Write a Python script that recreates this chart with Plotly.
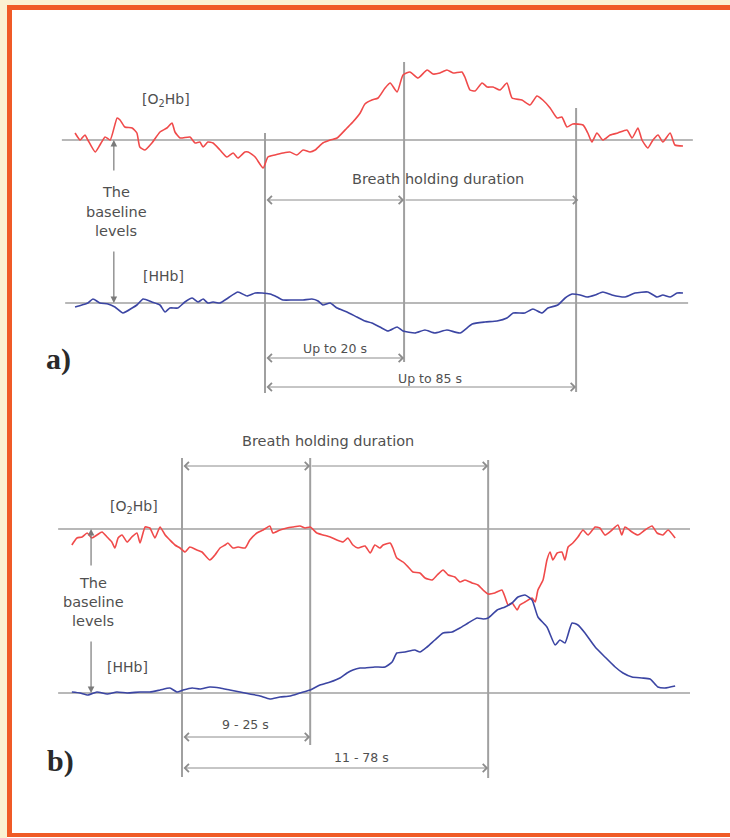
import plotly.graph_objects as go

# ---------------- Panel a) : time (s, relative to breath-hold onset), change vs baseline (a.u.)
a_o2hb_t = [-51.9,-50.5,-49.2,-48.4,-46.4,-45.1,-43.7,-42.3,-40.4,-39.6,-38.3,-36.3,-35.0,-34.2,-32.8,-30.9,
            -28.7,-26.8,-25.4,-24.6,-23.2,-20.5,-19.1,-17.8,-16.9,-15.6,-14.2,-12.3,-10.4,-8.7,-7.4,-5.5,-4.6,
            -2.7,-0.5,0.8,2.7,4.9,6.8,8.7,10.4,12.3,13.7,15.8,17.8,19.7,22.4,24.0,26.0,27.3,29.2,30.9,32.8,
            34.2,36.1,37.7,39.6,41.8,44.3,45.9,47.8,49.7,51.4,53.8,54.6,56.0,57.4,59.3,60.7,62.3,64.2,66.1,
            67.5,70.2,72.4,74.3,75.9,77.9,79.8,81.1,82.5,84.1,86.9,88.2,89.3,90.7,92.3,94.3,96.4,98.9,100.3,
            101.9,103.0,104.6,106.0,107.4,108.7,110.7,112.0,114.2]
a_o2hb_v = [0.7,0.0,0.5,0.0,-1.2,-0.5,0.3,0.0,2.2,2.0,1.3,1.2,0.7,-0.7,-1.0,-0.3,
            0.8,1.2,1.7,0.8,0.2,0.3,-0.3,-0.2,-0.7,-0.2,-0.3,-1.0,-1.7,-1.3,-1.8,-1.2,-1.2,
            -1.7,-2.8,-1.7,-1.5,-1.3,-1.2,-1.5,-1.0,-1.2,-1.0,-0.3,0.0,0.2,1.2,1.8,2.7,3.6,4.0,4.2,5.2,
            5.7,4.8,6.5,6.8,6.2,7.0,6.6,6.7,7.0,6.7,6.8,6.3,5.0,4.9,5.7,5.3,5.3,5.0,5.7,
            4.2,4.0,3.5,4.4,4.0,3.2,2.2,2.3,1.3,1.6,1.5,0.7,-0.2,0.7,0.0,0.5,0.7,1.0,0.2,
            1.2,0.0,-0.8,0.0,0.5,-0.2,0.7,-0.5,-0.6]

a_hhb_t = [-51.9,-50.0,-48.4,-47.0,-45.1,-42.9,-41.0,-38.8,-36.3,-35.0,-33.3,-30.9,-28.7,-27.3,-26.0,-23.8,
           -21.9,-19.9,-18.3,-16.9,-15.6,-14.2,-12.3,-10.1,-7.4,-4.9,-2.7,-0.8,1.4,3.3,4.9,7.7,10.4,12.8,
           14.5,15.8,17.8,19.7,22.4,25.1,27.3,29.2,31.4,33.6,36.1,37.7,41.0,43.7,46.4,49.7,53.3,56.6,60.1,
           63.4,66.1,67.8,71.0,73.2,75.7,77.3,80.0,82.0,83.9,86.1,88.0,90.2,92.3,94.8,98.4,101.1,104.6,
           107.1,108.7,110.7,112.6,114.2]
a_hhb_v = [-0.4,-0.2,0.0,0.4,0.0,-0.1,-0.4,-1.0,-0.5,-0.2,0.4,0.1,-0.2,-0.9,-0.5,-0.5,
           0.1,0.5,0.1,0.4,0.0,0.1,0.0,0.5,1.1,0.7,1.0,1.0,0.9,0.6,0.3,0.3,0.3,0.4,
           0.2,-0.2,0.0,-0.5,-0.9,-1.4,-1.8,-2.0,-2.4,-2.8,-2.4,-2.8,-3.0,-2.7,-3.0,-2.7,-3.0,-2.1,-1.9,
           -1.8,-1.5,-1.0,-1.0,-0.6,-1.0,-0.5,-0.2,0.5,0.9,0.8,0.6,0.8,1.1,0.8,0.6,1.0,1.1,
           0.6,0.8,0.6,1.0,1.0]

a_marks = [0.0, 38.0, 85.0]          # onset, "up to 20 s", "up to 85 s" cursors
a_labels = ["Up to 20 s", "Up to 85 s"]

# ---------------- Panel b)
b_o2hb_t = [-28.1,-26.8,-25.5,-24.2,-23.0,-21.7,-20.4,-19.1,-17.9,-17.1,-16.3,-15.3,-14.0,-12.8,-11.5,-10.7,
            -9.4,-8.2,-6.9,-5.6,-4.3,-3.1,-1.8,-0.5,0.8,2.0,3.8,5.1,7.1,8.4,9.7,11.0,11.7,13.0,14.3,16.1,
            17.3,19.1,20.7,22.4,23.2,25.0,26.8,28.3,30.1,31.4,32.7,34.4,36.0,37.8,39.5,41.1,42.3,43.6,44.9,
            46.7,48.0,49.2,50.5,51.3,53.1,53.8,54.8,56.4,57.7,58.9,60.7,62.0,63.8,65.1,66.6,67.9,69.6,70.9,
            72.2,74.0,75.5,76.8,78.1,79.8,81.6,82.4,83.2,84.2,85.5,86.2,87.5,89.3,90.1,90.8,92.1,93.1,93.9,
            94.6,95.7,96.9,97.7,98.5,99.7,101.0,102.3,103.6,105.4,106.6,107.9,109.7,111.2,112.2,113.0,114.8,
            116.3,118.1,119.9,121.2,122.7,124.0,125.8]
b_o2hb_v = [-1.6,-0.9,-0.8,-0.4,-0.9,-0.6,-0.3,-0.8,-1.3,-1.9,-0.9,-0.6,-1.3,-0.8,-0.4,-1.4,
            0.2,0.1,-0.9,0.2,-0.6,-1.1,-1.6,-1.9,-2.3,-1.8,-2.1,-2.3,-3.1,-2.6,-1.9,-1.6,-1.4,-1.9,-1.8,-1.9,
            -1.1,-0.4,-0.1,0.3,-0.4,-0.1,0.1,0.2,0.3,0.1,0.2,-0.4,-0.6,-0.8,-1.1,-1.3,-0.9,-1.6,-1.9,
            -1.7,-2.4,-1.6,-1.9,-1.6,-1.4,-1.9,-2.9,-3.3,-3.8,-4.3,-4.4,-4.9,-5.1,-4.6,-4.1,-4.6,-4.8,-5.3,
            -5.1,-5.4,-5.6,-6.1,-6.5,-6.4,-6.1,-6.8,-7.6,-7.4,-8.1,-7.6,-7.3,-6.9,-7.3,-6.1,-5.1,-3.1,-2.3,
            -3.1,-2.4,-2.3,-3.1,-1.8,-1.4,-0.8,-0.1,-0.6,0.2,0.1,-0.6,-0.1,0.4,-0.6,0.2,-0.3,
            -0.6,-0.1,0.3,-0.4,-0.6,-0.1,-0.9]

b_hhb_t = [-28.1,-26.0,-24.0,-21.7,-19.1,-16.6,-14.0,-10.7,-8.2,-5.6,-3.1,-1.3,0.3,2.6,4.6,7.1,9.7,12.2,
           14.8,17.3,19.9,22.4,25.0,27.6,30.1,32.7,35.2,37.8,40.3,42.1,43.6,45.4,46.7,49.2,51.8,53.6,54.8,
           56.9,59.4,60.7,62.5,64.5,66.6,68.9,70.9,73.0,75.3,76.8,78.1,80.4,82.4,84.2,85.7,87.5,89.3,90.8,
           93.1,95.2,96.4,97.7,99.5,101.0,102.8,105.4,107.9,110.5,112.5,114.8,117.3,119.4,121.4,123.2,125.8]
b_hhb_v = [0.1,0.0,-0.2,0.1,-0.1,0.1,0.0,0.1,0.1,0.3,0.5,0.1,0.3,0.5,0.4,0.6,0.5,0.3,
           0.1,-0.1,-0.3,-0.6,-0.4,-0.3,0.0,0.3,0.8,1.1,1.5,2.0,2.3,2.5,2.5,2.6,2.6,3.1,4.0,
           4.1,4.3,4.1,4.6,5.3,6.0,6.1,6.5,7.0,7.5,7.4,7.5,8.3,8.6,9.0,9.6,9.8,9.3,7.6,
           6.6,4.8,5.3,5.0,7.0,6.8,6.0,4.6,3.6,2.6,2.0,1.6,1.5,1.4,0.6,0.5,0.7]

b_marks = [0.0, 32.7, 78.1]
b_labels = ["9 - 25 s", "11 - 78 s"]

RED = "#f04a4a"
BLUE = "#3b45a3"
GRAY = "#a0a0a0"
AGRAY = "#8c8c8c"
TXT = "#505050"
ORANGE = "#f05a26"
SANS = "DejaVu Sans, Verdana, sans-serif"
SERIF = "Liberation Serif, Times New Roman, serif"

fig = go.Figure()
for xs, ys, xa, ya, col, nm in [
    (a_o2hb_t, a_o2hb_v, "x", "y", RED, "[O2Hb] a"),
    (a_hhb_t, a_hhb_v, "x", "y2", BLUE, "[HHb] a"),
    (b_o2hb_t, b_o2hb_v, "x2", "y3", RED, "[O2Hb] b"),
    (b_hhb_t, b_hhb_v, "x2", "y4", BLUE, "[HHb] b"),
]:
    fig.add_trace(go.Scatter(x=xs, y=ys, xaxis=xa, yaxis=ya, mode="lines", name=nm,
                             line=dict(color=col, width=1.6, shape="spline", smoothing=0.5)))

shapes = []
annos = []

def hline(xr, yr, x0, x1, y):
    shapes.append(dict(type="line", xref=xr, yref=yr, x0=x0, x1=x1, y0=y, y1=y,
                       line=dict(color=GRAY, width=1.6), layer="below"))

def vline(xr, yr, x, y0, y1):
    shapes.append(dict(type="line", xref=xr, yref=yr, x0=x, x1=x, y0=y0, y1=y1,
                       line=dict(color=GRAY, width=2), layer="below"))

def dim(xr, yr, x0, x1, y, both=True):
    annos.append(dict(xref=xr, yref=yr, axref=xr, ayref=yr, x=x1, y=y, ax=x0, ay=y, text="",
                      showarrow=True, arrowhead=4, startarrowhead=4,
                      arrowside="end+start" if both else "end",
                      arrowsize=1.6, startarrowsize=1.6, arrowwidth=1, arrowcolor=AGRAY,
                      standoff=0, startstandoff=0))

def label(xr, yr, x, y, text, size=12, font=SANS, color=TXT):
    annos.append(dict(xref=xr, yref=yr, x=x, y=y, text=text, showarrow=False,
                      font=dict(family=font, size=size, color=color),
                      xanchor="center", yanchor="middle"))

def pointer(xr, yr, x, y_tail, y_head):
    annos.append(dict(xref=xr, yref=yr, axref=xr, ayref=yr, x=x, y=y_head, ax=x, ay=y_tail,
                      text="", showarrow=True, arrowhead=2, arrowsize=1.1, arrowwidth=1.2,
                      arrowcolor="#7a7a7a", standoff=0))

BIG, MID, SMALL = 14.5, 14, 12.5

# ---- panel a
hline("x", "y", -55.5, 116.9, 0)
hline("x", "y2", -54.6, 115.6, 0)
vline("x", "y", a_marks[0], 0.7, -25.3)
vline("x", "y", a_marks[1], 7.8, -22.2)
vline("x", "y", a_marks[2], 3.2, -25.2)
dim("x", "y", a_marks[0], a_marks[1], -6.0)
dim("x", "y", a_marks[1], a_marks[2] + 0.6, -6.0, both=False)
dim("x", "y", a_marks[0], a_marks[1], -21.8)
dim("x", "y", a_marks[0], a_marks[2], -24.7)
label("x", "y", 47.3, -3.9, "Breath holding duration", size=BIG)
label("x", "y", 19.2, -20.8, a_labels[0], size=SMALL)
label("x", "y", 45.1, -23.8, a_labels[1], size=SMALL)
label("x", "y", -27.0, 4.0, "[O<sub>2</sub>Hb]", size=MID)
label("x", "y", -27.6, -13.6, "[HHb]", size=MID)
label("x", "y", -40.7, -5.2, "The", size=BIG)
label("x", "y", -40.7, -7.2, "baseline", size=BIG)
label("x", "y", -40.7, -9.1, "levels", size=BIG)
pointer("x", "y", -41.3, -3.2, 0)
pointer("x", "y2", -41.3, 5.3, 0)
label("x", "y", -56.4, -21.9, "<b>a)</b>", size=30, font=SERIF, color="#2a2a2a")

# ---- panel b
hline("x2", "y3", -31.6, 129.6, 0)
hline("x2", "y4", -31.6, 129.6, 0)
vline("x2", "y3", b_marks[0], 7.1, -24.8)
vline("x2", "y3", b_marks[1], 7.1, -21.6)
vline("x2", "y3", b_marks[2], 6.9, -24.9)
dim("x2", "y3", b_marks[0], b_marks[1], 6.3)
dim("x2", "y3", b_marks[1], b_marks[2], 6.3, both=False)
dim("x2", "y3", b_marks[0], b_marks[1], -20.8)
dim("x2", "y3", b_marks[0], b_marks[2], -23.9)
label("x2", "y3", 37.2, 8.8, "Breath holding duration", size=BIG)
label("x2", "y3", 16.1, -19.5, b_labels[0], size=SMALL)
label("x2", "y3", 45.9, -22.8, b_labels[1], size=SMALL)
label("x2", "y3", -12.2, 2.2, "[O<sub>2</sub>Hb]", size=MID)
label("x2", "y3", -13.8, -13.8, "[HHb]", size=MID)
label("x2", "y3", -22.7, -5.4, "The", size=BIG)
label("x2", "y3", -22.7, -7.3, "baseline", size=BIG)
label("x2", "y3", -22.7, -9.2, "levels", size=BIG)
pointer("x2", "y3", -23.2, -3.8, 0)
pointer("x2", "y4", -23.2, 5.3, 0)
label("x2", "y3", -31.1, -23.2, "<b>b)</b>", size=30, font=SERIF, color="#2a2a2a")

# ---- page frame (orange border on left/top/bottom + pale strip)
W, H = 730, 838
PALE = "#fbf1d2"
shapes.append(dict(type="rect", xref="paper", yref="paper", x0=0, x1=1, y0=1 - 5 / H, y1=1,
                   fillcolor=PALE, line=dict(width=0), layer="below"))
shapes.append(dict(type="rect", xref="paper", yref="paper", x0=0, x1=7 / W, y0=0, y1=1,
                   fillcolor=PALE, line=dict(width=0), layer="below"))
shapes.append(dict(type="rect", xref="paper", yref="paper", x0=7 / W, x1=1, y0=1 - 10 / H, y1=1 - 5 / H,
                   fillcolor=ORANGE, line=dict(width=0)))
shapes.append(dict(type="rect", xref="paper", yref="paper", x0=7 / W, x1=12 / W, y0=1 - 837 / H, y1=1 - 5 / H,
                   fillcolor=ORANGE, line=dict(width=0)))
shapes.append(dict(type="rect", xref="paper", yref="paper", x0=7 / W, x1=1, y0=1 - 837 / H, y1=1 - 833 / H,
                   fillcolor=ORANGE, line=dict(width=0)))
# right side of the page is open (white)
shapes.append(dict(type="rect", xref="paper", yref="paper", x0=720 / W, x1=1, y0=1 - 832 / H, y1=1 - 11 / H,
                   fillcolor="white", line=dict(width=0)))

hidden = dict(visible=False, showgrid=False, zeroline=False, fixedrange=True)

# axis calibration: panel a 3.66 px/s with onset at x=265 px; panel b 3.92 px/s with onset at x=182 px
fig.update_layout(
    width=W, height=H, margin=dict(l=0, r=0, t=0, b=0),
    paper_bgcolor="white", plot_bgcolor="rgba(0,0,0,0)", showlegend=False,
    xaxis=dict(domain=[0, 1], range=[-265 / 3.66, (W - 265) / 3.66], anchor="y", **hidden),
    yaxis=dict(domain=[1 - 420 / H, 1 - 40 / H], range=[-28, 10], anchor="x", **hidden),
    yaxis2=dict(range=[-11.7, 26.3], overlaying="y", anchor="x", **hidden),
    xaxis2=dict(domain=[0, 1], range=[-182 / 3.92, (W - 182) / 3.92], anchor="y3", **hidden),
    yaxis3=dict(domain=[1 - 810 / H, 1 - 425 / H], range=[-28.1, 10.4], anchor="x2", **hidden),
    yaxis4=dict(range=[-11.7, 26.8], overlaying="y3", anchor="x2", **hidden),
    shapes=shapes, annotations=annos,
)

fig.write_html("out.html", config={"displayModeBar": False})
